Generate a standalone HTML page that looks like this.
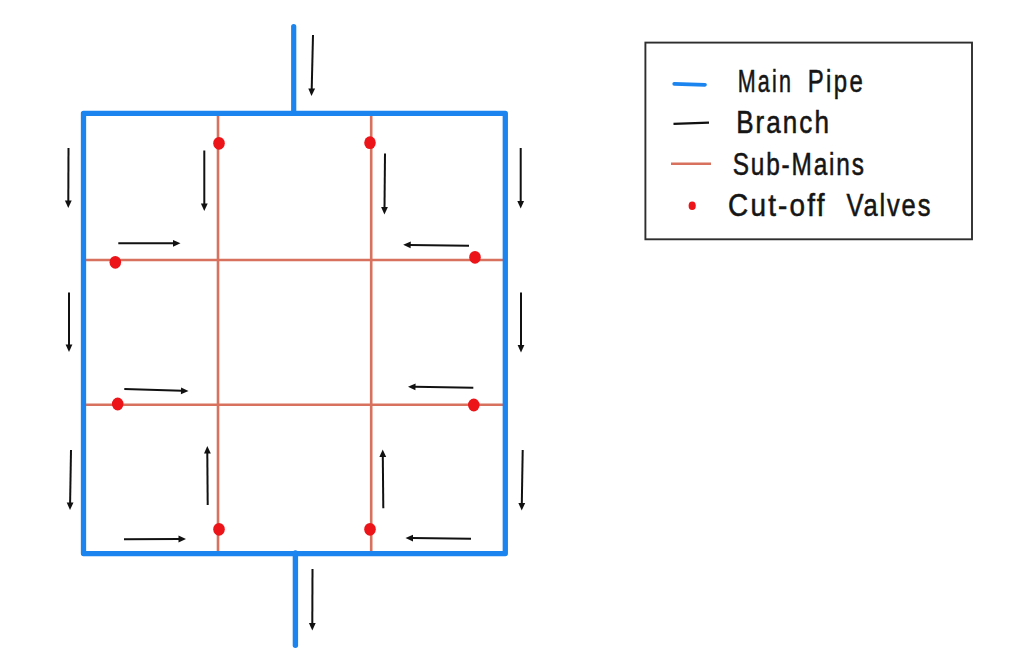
<!DOCTYPE html>
<html><head><meta charset="utf-8"><style>
html,body{margin:0;padding:0;background:#fff;width:1024px;height:666px;overflow:hidden;font-family:"Liberation Sans",sans-serif;}
svg{display:block;}
</style></head><body>
<svg width="1024" height="666" viewBox="0 0 1024 666">
<line x1="218" y1="114" x2="218" y2="552" stroke="#d8725e" stroke-width="2.6"/>
<line x1="371.2" y1="114" x2="371.2" y2="552" stroke="#d8725e" stroke-width="2.6"/>
<line x1="85" y1="260" x2="503" y2="260" stroke="#d8725e" stroke-width="2.6"/>
<line x1="85" y1="404.8" x2="503" y2="404.8" stroke="#d8725e" stroke-width="2.6"/>
<path d="M83.5 113.3 H505.3 V553.6 H83.5 Z" fill="none" stroke="#1c84ee" stroke-width="5.3" stroke-linejoin="round"/>
<line x1="293.7" y1="26.5" x2="293.7" y2="113" stroke="#1c84ee" stroke-width="5.2" stroke-linecap="round"/>
<line x1="295.4" y1="553" x2="295.4" y2="645.3" stroke="#1c84ee" stroke-width="5.4" stroke-linecap="round"/>
<ellipse cx="219" cy="143.3" rx="5.8" ry="6.4" fill="#ec1418"/>
<ellipse cx="370" cy="142.7" rx="5.8" ry="6.4" fill="#ec1418"/>
<ellipse cx="115.3" cy="262.3" rx="5.8" ry="6.4" fill="#ec1418"/>
<ellipse cx="475" cy="257.3" rx="5.8" ry="6.4" fill="#ec1418"/>
<ellipse cx="117.7" cy="404" rx="5.8" ry="6.4" fill="#ec1418"/>
<ellipse cx="473.8" cy="405" rx="5.8" ry="6.4" fill="#ec1418"/>
<ellipse cx="219" cy="529.3" rx="5.8" ry="6.4" fill="#ec1418"/>
<ellipse cx="370" cy="529.3" rx="5.8" ry="6.4" fill="#ec1418"/>
<line x1="313.0" y1="35.0" x2="311.7" y2="89.5" stroke="#111" stroke-width="2"/><polygon points="311.5,96.0 308.3,88.4 315.1,88.6" fill="#111"/>
<line x1="68.5" y1="148.0" x2="68.3" y2="201.5" stroke="#111" stroke-width="2"/><polygon points="68.3,208.0 64.9,200.5 71.7,200.5" fill="#111"/>
<line x1="69.0" y1="292.5" x2="69.0" y2="345.5" stroke="#111" stroke-width="2"/><polygon points="69.0,352.0 65.6,344.5 72.4,344.5" fill="#111"/>
<line x1="71.0" y1="450.0" x2="70.1" y2="503.5" stroke="#111" stroke-width="2"/><polygon points="70.0,510.0 66.7,502.4 73.5,502.6" fill="#111"/>
<line x1="204.3" y1="150.5" x2="204.3" y2="204.5" stroke="#111" stroke-width="2"/><polygon points="204.3,211.0 200.9,203.5 207.7,203.5" fill="#111"/>
<line x1="385.0" y1="153.5" x2="384.5" y2="208.0" stroke="#111" stroke-width="2"/><polygon points="384.4,214.5 381.1,207.0 387.9,207.0" fill="#111"/>
<line x1="520.7" y1="148.0" x2="520.7" y2="202.0" stroke="#111" stroke-width="2"/><polygon points="520.7,208.5 517.3,201.0 524.1,201.0" fill="#111"/>
<line x1="521.0" y1="292.5" x2="521.0" y2="346.0" stroke="#111" stroke-width="2"/><polygon points="521.0,352.5 517.6,345.0 524.4,345.0" fill="#111"/>
<line x1="522.7" y1="450.0" x2="521.8" y2="504.0" stroke="#111" stroke-width="2"/><polygon points="521.7,510.5 518.4,502.9 525.2,503.1" fill="#111"/>
<line x1="312.5" y1="569.0" x2="312.3" y2="624.0" stroke="#111" stroke-width="2"/><polygon points="312.3,630.5 308.9,623.0 315.7,623.0" fill="#111"/>
<line x1="207.7" y1="505.0" x2="207.3" y2="452.5" stroke="#111" stroke-width="2"/><polygon points="207.3,446.0 210.8,453.5 204.0,453.5" fill="#111"/>
<line x1="383.3" y1="508.3" x2="382.8" y2="456.0" stroke="#111" stroke-width="2"/><polygon points="382.7,449.5 386.2,457.0 379.4,457.0" fill="#111"/>
<line x1="118.3" y1="243.3" x2="174.0" y2="243.3" stroke="#111" stroke-width="2"/><polygon points="180.5,243.3 173.0,246.7 173.0,239.9" fill="#111"/>
<line x1="124.3" y1="389.0" x2="182.0" y2="390.8" stroke="#111" stroke-width="2"/><polygon points="188.5,391.0 180.9,394.2 181.1,387.4" fill="#111"/>
<line x1="124.0" y1="539.3" x2="179.5" y2="539.0" stroke="#111" stroke-width="2"/><polygon points="186.0,539.0 178.5,542.4 178.5,535.6" fill="#111"/>
<line x1="469.0" y1="245.8" x2="409.7" y2="244.9" stroke="#111" stroke-width="2"/><polygon points="403.2,244.8 410.8,241.5 410.6,248.3" fill="#111"/>
<line x1="473.3" y1="387.7" x2="414.5" y2="386.8" stroke="#111" stroke-width="2"/><polygon points="408.0,386.7 415.6,383.4 415.4,390.2" fill="#111"/>
<line x1="471.0" y1="538.7" x2="412.0" y2="538.1" stroke="#111" stroke-width="2"/><polygon points="405.5,538.0 413.0,534.7 413.0,541.5" fill="#111"/>
<rect x="645.4" y="42.6" width="326.6" height="196.7" fill="none" stroke="#2e2e2e" stroke-width="1.9"/>
<line x1="674.2" y1="83.9" x2="705" y2="84.8" stroke="#1c84ee" stroke-width="3.7" stroke-linecap="round"/>
<line x1="673.5" y1="123.8" x2="709" y2="122.6" stroke="#111" stroke-width="2.2"/>
<line x1="671" y1="163.8" x2="711" y2="163.8" stroke="#d8725e" stroke-width="2.5"/>
<ellipse cx="692.2" cy="205.8" rx="3.6" ry="4.3" fill="#ec1418"/>
<text transform="translate(737.64,92.3) scale(0.694,1)" x="0" y="0" textLength="76.77" lengthAdjust="spacing" font-family="Liberation Sans" font-size="31" fill="#151515" stroke="#151515" stroke-width="0.55">Main</text>
<text transform="translate(807.68,92.3) scale(0.773,1)" x="0" y="0" textLength="71.44" lengthAdjust="spacing" font-family="Liberation Sans" font-size="31" fill="#151515" stroke="#151515" stroke-width="0.55">Pipe</text>
<text transform="translate(736.16,133.0) scale(0.841,1)" x="0" y="0" textLength="110.27" lengthAdjust="spacing" font-family="Liberation Sans" font-size="31" fill="#151515" stroke="#151515" stroke-width="0.55">Branch</text>
<text transform="translate(732.64,174.6) scale(0.787,1)" x="0" y="0" textLength="166.81" lengthAdjust="spacing" font-family="Liberation Sans" font-size="31" fill="#151515" stroke="#151515" stroke-width="0.55">Sub-Mains</text>
<text transform="translate(728.10,215.6) scale(0.9,1)" x="0" y="0" textLength="107.20" lengthAdjust="spacing" font-family="Liberation Sans" font-size="31" fill="#151515" stroke="#151515" stroke-width="0.55">Cut-off</text>
<text transform="translate(846.52,215.6) scale(0.822,1)" x="0" y="0" textLength="102.04" lengthAdjust="spacing" font-family="Liberation Sans" font-size="31" fill="#151515" stroke="#151515" stroke-width="0.55">Valves</text>
</svg>
</body></html>
